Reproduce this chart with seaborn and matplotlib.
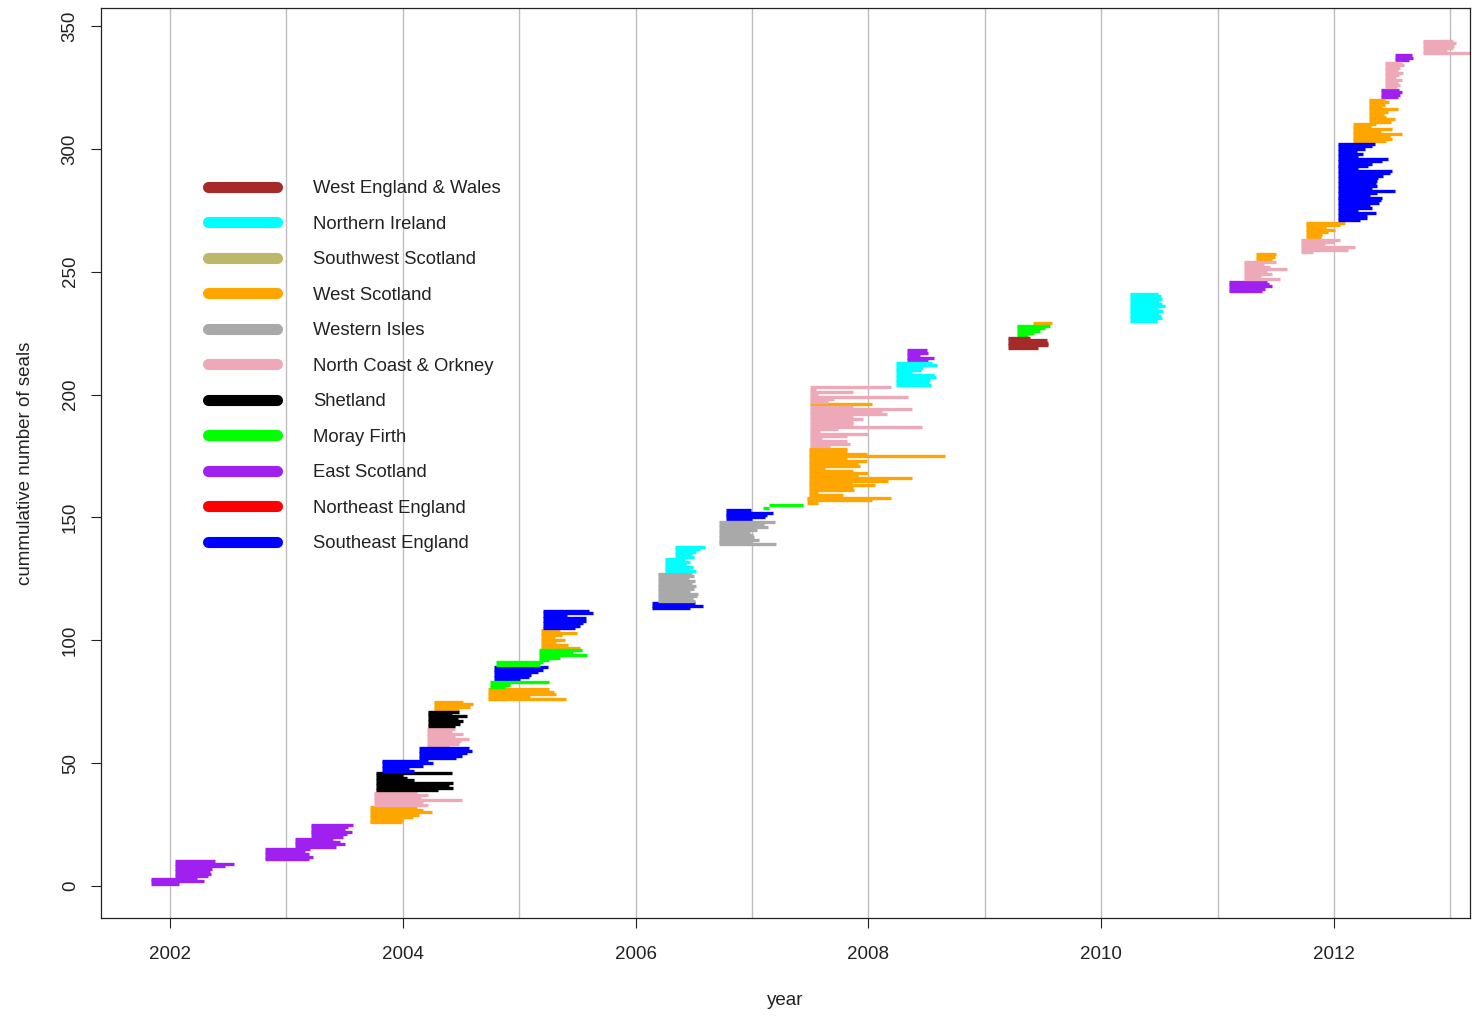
import pandas as pd
import matplotlib
matplotlib.use("Agg")
import matplotlib.pyplot as plt
from matplotlib.lines import Line2D
import seaborn as sns

# Management regions and their plotting colours
regions = ["West England & Wales", "Northern Ireland", "Southwest Scotland",
           "West Scotland", "Western Isles", "North Coast & Orkney", "Shetland",
           "Moray Firth", "East Scotland", "Northeast England", "Southeast England"]
region_colors = ["#A52A2A", "#00FFFF", "#BDB76B", "#FFA500", "#A9A9A9", "#EEA9B8",
                 "#000000", "#00FF00", "#A020F0", "#FF0000", "#0000FF"]

WEW, NI, WS, WI, NCO, SH, MF, ES, SEE = (
    "West England & Wales", "Northern Ireland", "West Scotland", "Western Isles",
    "North Coast & Orkney", "Shetland", "Moray Firth", "East Scotland", "Southeast England")

# Tagging batches in deployment order: region, deployment date (decimal year)
# and the date each tag in the batch stopped transmitting
batch_region = [ES, ES, ES, ES, ES,
                WS, NCO, SH, SEE, SEE, NCO, SH, WS,
                WS, MF, SEE, MF, MF, WS, SEE,
                SEE, WI, NI, NI,
                WI, SEE, MF, MF,
                WS, WS, NCO, WS, NCO,
                NI, ES,
                WEW, MF, WS,
                NI,
                ES, NCO, WS,
                NCO, WS, SEE, WS, WS, ES, NCO, ES, NCO]
batch_start = [2001.84, 2002.04, 2002.82, 2003.07, 2003.21,
               2003.72, 2003.75, 2003.77, 2003.82, 2004.14, 2004.21, 2004.22, 2004.27,
               2004.73, 2004.75, 2004.78, 2004.80, 2005.17, 2005.19, 2005.20,
               2006.14, 2006.19, 2006.25, 2006.34,
               2006.72, 2006.78, 2007.09, 2007.15,
               2007.47, 2007.49, 2007.50, 2007.50, 2007.50,
               2008.24, 2008.33,
               2009.20, 2009.28, 2009.41,
               2010.25,
               2011.10, 2011.23, 2011.33,
               2011.72, 2011.76, 2012.03, 2012.16, 2012.30, 2012.40, 2012.44, 2012.52, 2012.76]
batch_end = [
    [2002.08, 2002.29, 2002.23],
    [2002.33, 2002.35, 2002.34, 2002.36, 2002.47, 2002.55, 2002.39],
    [2003.19, 2003.23, 2003.19, 2003.16, 2003.20],
    [2003.43, 2003.50, 2003.46, 2003.40],
    [2003.49, 2003.52, 2003.56, 2003.50, 2003.53, 2003.57],
    [2003.99, 2004.00, 2004.09, 2004.14, 2004.25, 2004.17, 2004.12],
    [2004.22, 2004.17, 2004.51, 2004.16, 2004.22, 2004.12],
    [2004.30, 2004.43, 2004.40, 2004.43, 2004.10, 2004.04, 2004.00, 2004.42],
    [2004.10, 2004.05, 2004.17, 2004.26, 2004.22],
    [2004.46, 2004.51, 2004.55, 2004.59, 2004.57],
    [2004.40, 2004.48, 2004.50, 2004.57, 2004.45, 2004.52, 2004.42, 2004.45],
    [2004.45, 2004.49, 2004.52, 2004.47, 2004.55, 2004.42, 2004.48],
    [2004.48, 2004.58, 2004.60, 2004.52],
    [2005.40, 2005.09, 2005.32, 2005.30, 2005.26],
    [2004.88, 2004.92, 2005.26],
    [2005.01, 2005.08, 2005.10, 2005.16, 2005.20, 2005.25],
    [2005.18, 2005.20],
    [2005.26, 2005.35, 2005.58, 2005.46, 2005.54],
    [2005.52, 2005.42, 2005.32, 2005.39, 2005.31, 2005.37, 2005.50, 2005.35],
    [2005.48, 2005.52, 2005.55, 2005.57, 2005.57, 2005.41, 2005.63, 2005.60],
    [2006.47, 2006.58, 2006.51],
    [2006.51, 2006.49, 2006.53, 2006.54, 2006.47, 2006.50, 2006.52, 2006.48,
     2006.51, 2006.46, 2006.50, 2006.48],
    [2006.52, 2006.45, 2006.49, 2006.43, 2006.47, 2006.42],
    [2006.50, 2006.48, 2006.52, 2006.55, 2006.60],
    [2007.21, 2007.00, 2007.06, 2007.02, 2007.01, 2006.98, 2007.04, 2007.14, 2007.10, 2007.20],
    [2007.00, 2007.11, 2007.13, 2007.18, 2006.99],
    [2007.15],
    [2007.44],
    [2007.57, 2008.03, 2008.19],
    [2007.78, 2007.57, 2007.88, 2007.87, 2008.06, 2007.86, 2008.17, 2008.37, 2007.91, 2008.00,
     2007.87, 2007.63, 2007.93, 2007.91, 2007.99, 2007.82, 2008.66, 2007.99, 2007.82, 2007.82],
    [2007.67, 2007.84, 2007.82, 2007.60, 2007.82, 2008.00, 2007.58, 2007.74, 2008.46, 2007.87,
     2007.87, 2007.95, 2007.87, 2008.16, 2008.12, 2008.37, 2007.87],
    [2008.03],
    [2007.65, 2007.70, 2008.34, 2007.57, 2007.87, 2007.55, 2008.19],
    [2008.54, 2008.52, 2008.53, 2008.58, 2008.56, 2008.37, 2008.45, 2008.47, 2008.59, 2008.55],
    [2008.51, 2008.56, 2008.44, 2008.51, 2008.50],
    [2009.46, 2009.54, 2009.54, 2009.53, 2009.39],
    [2009.37, 2009.42, 2009.47, 2009.52, 2009.56],
    [2009.58],
    [2010.48, 2010.52, 2010.51, 2010.50, 2010.53, 2010.49, 2010.55, 2010.52,
     2010.50, 2010.52, 2010.51, 2010.49],
    [2011.38, 2011.41, 2011.47, 2011.44, 2011.42],
    [2011.54, 2011.37, 2011.47, 2011.42, 2011.60, 2011.45, 2011.40, 2011.50],
    [2011.47, 2011.49, 2011.50],
    [2011.82, 2012.12, 2012.18, 2011.92, 2012.00, 2012.05],
    [2011.89, 2011.90, 2011.95, 2012.01, 2011.93, 2012.05, 2012.09],
    [2012.22, 2012.28, 2012.28, 2012.36, 2012.21, 2012.33, 2012.31, 2012.39, 2012.40, 2012.41,
     2012.31, 2012.37, 2012.52, 2012.33, 2012.37, 2012.36, 2012.37, 2012.38, 2012.42, 2012.48,
     2012.50, 2012.21, 2012.29, 2012.33, 2012.41, 2012.46, 2012.21, 2012.25, 2012.20, 2012.27,
     2012.33, 2012.35],
    [2012.45, 2012.50, 2012.48, 2012.58, 2012.40, 2012.50, 2012.32, 2012.36],
    [2012.49, 2012.52, 2012.45, 2012.43, 2012.46, 2012.55, 2012.41, 2012.44, 2012.47, 2012.44],
    [2012.55, 2012.57, 2012.58, 2012.56],
    [2012.54, 2012.57, 2012.55, 2012.58, 2012.53, 2012.56, 2012.59, 2012.55, 2012.57, 2012.60,
     2012.58],
    [2012.64, 2012.68, 2012.67],
    [2013.17, 2012.97, 2013.02, 2013.03, 2013.05, 2013.02],
]

year_ticks = [2002, 2004, 2006, 2008, 2010, 2012]
count_ticks = [0, 50, 100, 150, 200, 250, 300, 350]
grid_years = list(range(2002, 2014))

# One row per end of each tag's record, stacked by cumulative tag count
rows = []
tag = 0
for reg, start, ends in zip(batch_region, batch_start, batch_end):
    for end in ends:
        tag += 1
        rows.append((tag, reg, start, tag))
        rows.append((tag, reg, end, tag))
df = pd.DataFrame(rows, columns=["tag", "region", "year", "count"])

sns.set_theme(style="white")
plt.rcParams["font.family"] = ["Liberation Sans", "DejaVu Sans"]

fig = plt.figure(figsize=(14.72, 10.17), dpi=100)
ax = fig.add_axes([101 / 1472, 1 - 918 / 1017, 1369 / 1472, 910 / 1017])

for gy in grid_years:
    ax.axvline(gy, color="#BEBEBE", lw=1.0, zorder=0)

palette = dict(zip(regions, region_colors))
sns.lineplot(data=df, x="year", y="count", units="tag", hue="region",
             estimator=None, palette=palette, lw=2.4, legend=False, ax=ax,
             solid_capstyle="butt")

ax.set_xlim(2001.407, 2013.168)
ax.set_ylim(-13.0, 357.3)
ax.set_xticks(year_ticks)
ax.set_xticklabels([str(y) for y in year_ticks])
ax.set_yticks(count_ticks)
ax.set_yticklabels([str(c) for c in count_ticks], rotation=90, va="center")
ax.tick_params(axis="both", direction="out", length=7, width=0.8, color="#222222",
               labelsize=13.5, labelcolor="#222222", left=True, bottom=True)
ax.tick_params(axis="x", pad=13)
ax.tick_params(axis="y", pad=9)
for sp in ax.spines.values():
    sp.set_visible(True)
    sp.set_color("#222222")
    sp.set_linewidth(0.9)

ax.set_xlabel("year", fontsize=13.5, color="#222222", labelpad=21)
ax.set_ylabel("cummulative number of seals", fontsize=13.5, color="#222222", labelpad=20)

handles = [Line2D([0], [0], color=c, lw=8, solid_capstyle="round") for c in region_colors]
leg = ax.legend(handles, regions, loc="upper left", bbox_to_anchor=(0.0785, 0.8105),
                frameon=False, fontsize=13.3, handlelength=3.73, handletextpad=1.92,
                labelspacing=1.0, borderpad=0, borderaxespad=0)
for t in leg.get_texts():
    t.set_color("#222222")

fig.savefig("out.png", dpi=100)
